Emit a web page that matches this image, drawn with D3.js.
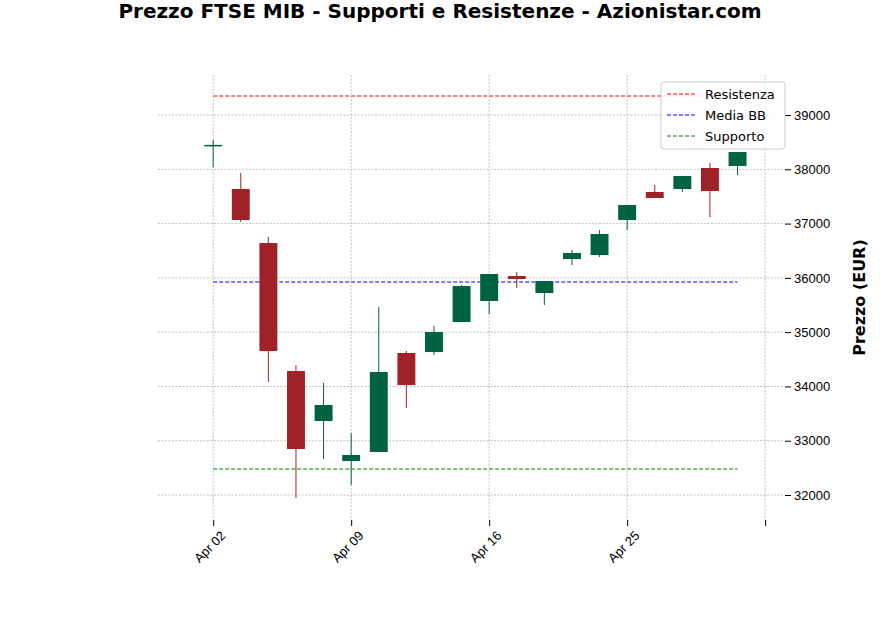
<!DOCTYPE html>
<html><head><meta charset="utf-8">
<script src="https://cdn.jsdelivr.net/npm/d3@7"></script>
<style>body{margin:0;background:#fff;font-family:"DejaVu Sans",sans-serif}</style>
</head><body><div id="chart"></div>
<script>
// candle data
const opens  = [38430,37637,36642,34285,33364,32627,32793,34616,34634,35187,35574,36034,35721,36347,36421,37066,37582,37637,38024,38061];
const closes = [38450,37066,34653,32848,33658,32737,34266,34027,35003,35850,36071,35979,35942,36458,36808,37342,37471,37876,37600,38318];
const highs  = [38540,37932,36753,34395,34063,33142,35463,34653,35113,35868,36071,36108,35942,36513,36882,37342,37711,37876,38116,38318];
const lows   = [38042,37030,34082,31945,32664,32185,32793,33603,34579,35187,35334,35813,35500,36237,36384,36882,37471,37582,37121,37895];
const tickIdx = [0,5,10,15,20];
const tickLabels = ["Apr 02","Apr 09","Apr 16","Apr 25",""];
const yTicks = [32000,33000,34000,35000,36000,37000,38000,39000];
const levels = [
  {name:"Resistenza", value:39350, color:"red"},
  {name:"Media BB", value:35924, color:"blue"},
  {name:"Supporto", value:32479, color:"green"}
];

const W = 880, H = 632;
const margin = {top:75, right:95, bottom:112, left:158};
const svg = d3.select("#chart").append("svg").attr("width", W).attr("height", H);
const g = svg.append("g").attr("transform", `translate(${margin.left},${margin.top})`);
const w = W - margin.left - margin.right, h = H - margin.top - margin.bottom;

const x = d3.scaleLinear().domain([-2, 20.72]).range([0, w]);
const y = d3.scaleLinear().domain([31540, 39737]).range([h, 0]);

// grid
g.selectAll(".hg").data(yTicks).enter().append("line")
  .attr("x1", 0).attr("x2", w).attr("y1", d => y(d)).attr("y2", d => y(d))
  .attr("stroke", "#999").attr("stroke-width", 0.6).attr("stroke-dasharray", "2,1.5");
g.selectAll(".vg").data(tickIdx).enter().append("line")
  .attr("x1", d => x(d)).attr("x2", d => x(d)).attr("y1", 0).attr("y2", h)
  .attr("stroke", "#999").attr("stroke-width", 0.6).attr("stroke-dasharray", "2,1.5");

// axes
const xAxis = g.append("g").attr("transform", `translate(0,${h})`)
  .call(d3.axisBottom(x).tickValues(tickIdx).tickFormat((d, i) => tickLabels[i]).tickSizeOuter(0));
xAxis.select(".domain").remove();
xAxis.selectAll("text").attr("font-size", 13).style("text-anchor", "end")
  .attr("dx", "-0.2em").attr("dy", "0.9em").attr("transform", "rotate(-45)");

const yAxis = g.append("g").attr("transform", `translate(${w},0)`)
  .call(d3.axisRight(y).tickValues(yTicks).tickFormat(d3.format("d")).tickSizeOuter(0));
yAxis.select(".domain").remove();
yAxis.selectAll("text").attr("font-size", 13);

svg.append("text").attr("transform", `translate(865,${margin.top + h/2}) rotate(-90)`)
  .attr("text-anchor", "middle").attr("font-size", 16).attr("font-weight", "bold").text("Prezzo (EUR)");

// levels
g.selectAll(".lvl").data(levels).enter().append("line")
  .attr("x1", x(0)).attr("x2", x(19)).attr("y1", d => y(d.value)).attr("y2", d => y(d.value))
  .attr("stroke", d => d.color).attr("stroke-width", 1).attr("stroke-dasharray", "4,2");

// candles
const data = opens.map((o, i) => ({i, o, c: closes[i], hi: highs[i], lo: lows[i]}));
const bw = (x(1) - x(0)) * 0.65;
const col = d => d.c >= d.o ? "#006340" : "#a02128";
g.selectAll(".wick").data(data).enter().append("line")
  .attr("x1", d => x(d.i)).attr("x2", d => x(d.i)).attr("y1", d => y(d.hi)).attr("y2", d => y(d.lo))
  .attr("stroke", col).attr("stroke-width", 1);
g.selectAll(".body").data(data).enter().append("rect")
  .attr("x", d => x(d.i) - bw/2).attr("width", bw)
  .attr("y", d => y(Math.max(d.o, d.c)))
  .attr("height", d => Math.max(1.5, Math.abs(y(d.o) - y(d.c))))
  .attr("fill", col);

// legend
const lg = svg.append("g").attr("transform", "translate(661,82)");
lg.append("rect").attr("width", 124).attr("height", 67).attr("rx", 3)
  .attr("fill", "white").attr("fill-opacity", 0.85).attr("stroke", "#ccc");
levels.forEach((d, i) => {
  lg.append("line").attr("x1", 6).attr("x2", 34).attr("y1", 12 + i*21).attr("y2", 12 + i*21)
    .attr("stroke", d.color).attr("stroke-dasharray", "4,2");
  lg.append("text").attr("x", 44).attr("y", 17 + i*21).attr("font-size", 13).text(d.name);
});

// title
svg.append("text").attr("x", 440).attr("y", 18).attr("text-anchor", "middle")
  .attr("font-size", 20).attr("font-weight", "bold")
  .text("Prezzo FTSE MIB - Supporti e Resistenze - Azionistar.com");
</script></body></html>
